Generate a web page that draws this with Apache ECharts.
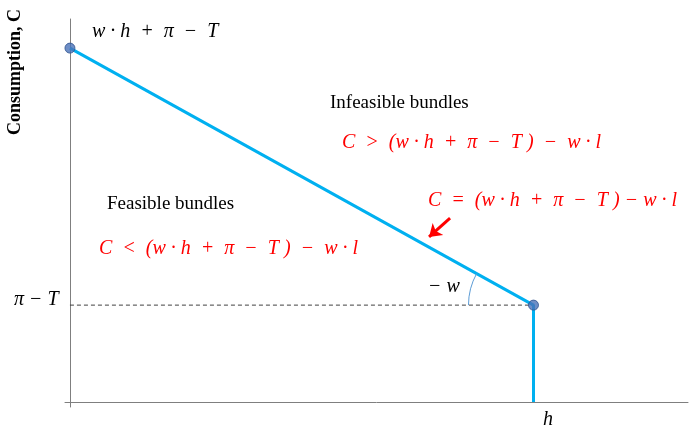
<!DOCTYPE html>
<html>
<head>
<meta charset="utf-8">
<script src="https://cdn.jsdelivr.net/npm/echarts@6/dist/echarts.min.js"></script>
<style>
  html, body { margin: 0; padding: 0; background: #fff; }
  #chart { width: 689px; height: 428px; }
</style>
</head>
<body>
<div id="chart"></div>
<script>
// budget constraint: endowment point, kink at h
var budgetLine = [[0, 92.4], [75, 25.3], [75, 0]];
var kinkPoints = [[0, 92.4], [75, 25.3]];
var nonLaborLine = [[0, 25.3], [75, 25.3]];
var arrowCoords = [[61.5, 48], [58.1, 43.1]];

var chart = echarts.init(document.getElementById('chart'));

var mathFont = '"Liberation Serif", "DejaVu Serif", serif';
var redText = '#ff0000';

var option = {
  animation: false,
  grid: { left: 65, right: 1, top: 19, bottom: 21 },
  xAxis: {
    type: 'value',
    min: -0.8,
    max: 100,
    axisLine: { onZero: true, lineStyle: { color: '#7f7f7f', width: 1 } },
    axisTick: { show: false },
    axisLabel: { show: false },
    splitLine: { show: false }
  },
  yAxis: {
    type: 'value',
    min: -1.3,
    max: 100,
    axisLine: { onZero: true, lineStyle: { color: '#7f7f7f', width: 1 } },
    axisTick: { show: false },
    axisLabel: { show: false },
    splitLine: { show: false }
  },
  series: [
    {
      // dashed line at pi - T
      type: 'line',
      data: nonLaborLine,
      symbol: 'none',
      lineStyle: { color: '#404040', width: 1, type: [4, 3] },
      z: 1
    },
    {
      type: 'line',
      data: budgetLine,
      symbol: 'none',
      lineStyle: { color: '#00b0f0', width: 3 },
      z: 2
    },
    {
      type: 'scatter',
      data: kinkPoints,
      symbolSize: 10,
      itemStyle: { color: '#4a72b8', borderColor: '#2f528f', borderWidth: 1 },
      z: 5
    },
    {
      type: 'lines',
      coordinateSystem: 'cartesian2d',
      data: [{ coords: arrowCoords }],
      symbol: ['none', 'arrow'],
      symbolSize: 12,
      lineStyle: { color: '#ff0000', width: 3, opacity: 1 },
      z: 6
    }
  ]
};
chart.setOption(option);

// angle arc at the kink, between the dashed line and the budget line
var kinkPx = chart.convertToPixel({ gridIndex: 0 }, kinkPoints[1]);
var startPx = chart.convertToPixel({ gridIndex: 0 }, kinkPoints[0]);
var ang = Math.atan2(kinkPx[1] - startPx[1], kinkPx[0] - startPx[0]);

chart.setOption({
  graphic: [
    {
      type: 'arc',
      shape: { cx: kinkPx[0], cy: kinkPx[1], r: 65, startAngle: Math.PI, endAngle: Math.PI + ang, clockwise: true },
      style: { stroke: '#5b9bd5', lineWidth: 1, fill: null },
      z: 3
    },
    {
      type: 'text', rotation: Math.PI / 2, x: 15, y: 72,
      style: { text: 'Consumption, C', font: 'bold 18px "Liberation Serif", serif', fill: '#000', align: 'center', verticalAlign: 'middle' }
    },
    {
      type: 'text', x: 92, y: 32,
      style: { text: 'w · h  +  π  −  T', font: 'italic 20px ' + mathFont, fill: '#000', verticalAlign: 'middle' }
    },
    {
      type: 'text', x: 330, y: 103,
      style: { text: 'Infeasible bundles', font: '19px "Liberation Serif", serif', fill: '#000', verticalAlign: 'middle' }
    },
    {
      type: 'text', x: 342, y: 143,
      style: { text: 'C  >  (w · h  +  π  −  T )  −  w · l', font: 'italic 20px ' + mathFont, fill: redText, verticalAlign: 'middle' }
    },
    {
      type: 'text', x: 428, y: 201,
      style: { text: 'C  =  (w · h  +  π  −  T ) − w · l', font: 'italic 20px ' + mathFont, fill: redText, verticalAlign: 'middle' }
    },
    {
      type: 'text', x: 107, y: 204,
      style: { text: 'Feasible bundles', font: '19px "Liberation Serif", serif', fill: '#000', verticalAlign: 'middle' }
    },
    {
      type: 'text', x: 99, y: 249,
      style: { text: 'C  <  (w · h  +  π  −  T )  −  w · l', font: 'italic 20px ' + mathFont, fill: redText, verticalAlign: 'middle' }
    },
    {
      type: 'text', x: 428, y: 287,
      style: { text: '− w', font: 'italic 20px ' + mathFont, fill: '#000', verticalAlign: 'middle' }
    },
    {
      type: 'text', x: 14, y: 300,
      style: { text: 'π − T', font: 'italic 20px ' + mathFont, fill: '#000', verticalAlign: 'middle' }
    },
    {
      type: 'text', x: 543, y: 420,
      style: { text: 'h', font: 'italic 20px ' + mathFont, fill: '#000', verticalAlign: 'middle' }
    }
  ]
});
</script>
</body>
</html>
